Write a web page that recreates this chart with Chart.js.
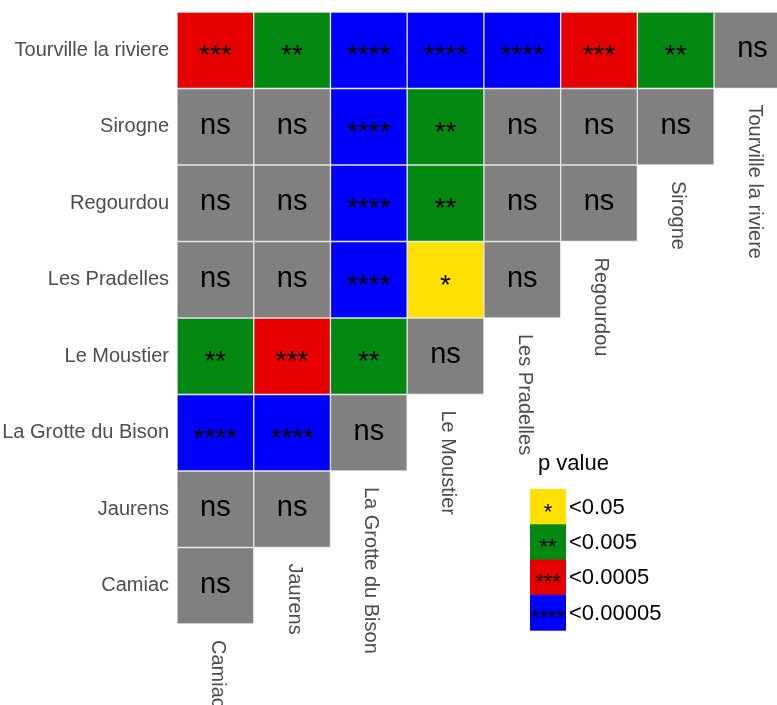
<!DOCTYPE html>
<html>
<head>
<meta charset="utf-8">
<script src="https://cdn.jsdelivr.net/npm/chart.js@4.4.1/dist/chart.umd.min.js"></script>
<style>
    html, body { margin: 0; padding: 0; background: #fff; }
</style>
</head>
<body>
<canvas id="heat" width="777" height="705"></canvas>
<script>
"use strict";

// Sites along the bottom, left to right. Rows run the other way (top to bottom).
var sites = ['Camiac', 'Jaurens', 'La Grotte du Bison', 'Le Moustier', 'Les Pradelles', 'Regourdou', 'Sirogne', 'Tourville la riviere'];
var rowSites = sites.slice().reverse();

// Significance for each row, one entry per column starting at Camiac:
var sigTourville = ['***', '**', '****', '****', '****', '***', '**', 'ns'];
var sigSirogne = ['ns', 'ns', '****', '**', 'ns', 'ns', 'ns'];
var sigRegourdou = ['ns', 'ns', '****', '**', 'ns', 'ns'];
var sigPradelles = ['ns', 'ns', '****', '*', 'ns'];
var sigMoustier = ['**', '***', '**', 'ns'];
var sigGrotte = ['****', '****', 'ns'];
var sigJaurens = ['ns', 'ns'];
var sigCamiac = ['ns'];
var sigRows = [sigTourville, sigSirogne, sigRegourdou, sigPradelles, sigMoustier, sigGrotte, sigJaurens, sigCamiac];

// Legend:
var legendSymbols = ['*', '**', '***', '****'];
var legendLabels = ['<0.05', '<0.005', '<0.0005', '<0.00005'];

var sigColors = { 'ns': '#808080', '*': '#FFE000', '**': '#038912', '***': '#E60000', '****': '#0000FF' };
var FONT = "'Liberation Sans', Arial, sans-serif";

// Helper: draw text with its ink centred on (cx, cy):
var drawCentered = function drawCentered(ctx, text, cx, cy, font) {
    ctx.font = font;
    ctx.textAlign = 'center';
    ctx.textBaseline = 'alphabetic';
    var m = ctx.measureText(text);
    ctx.fillText(text, cx, cy + (m.actualBoundingBoxAscent - m.actualBoundingBoxDescent) / 2);
};

// One floating-bar dataset per row; each bar is one cell.
var datasets = sigRows.map(function (row, r) {
    return {
        label: rowSites[r],
        data: row.map(function (s, c) {
            return { x: c, y: [r - 0.5, r + 0.5], sig: s };
        }),
        backgroundColor: row.map(function (s) { return sigColors[s]; }),
        borderColor: '#e4e4e4',
        borderWidth: 1,
        borderSkipped: false,
        grouped: false,
        barPercentage: 1,
        categoryPercentage: 1
    };
});

// Cell texts (stars / ns):
var cellText = {
    id: 'cellText',
    afterDatasetsDraw: function (chart) {
        var ctx = chart.ctx;
        ctx.save();
        ctx.fillStyle = '#000';
        chart.data.datasets.forEach(function (ds, r) {
            chart.getDatasetMeta(r).data.forEach(function (bar, c) {
                var p = bar.getProps(['x', 'y', 'base'], true);
                var sig = ds.data[c].sig;
                var font = sig === 'ns' ? '29px ' + FONT : '28px ' + FONT;
                drawCentered(ctx, sig, p.x, (p.y + p.base) / 2 - (sig === 'ns' ? 1 : 0), font);
            });
        });
        ctx.restore();
    }
};

// Column labels under the lowest cell of each column, and the p value legend:
var extras = {
    id: 'extras',
    afterDraw: function (chart) {
        var ctx = chart.ctx;
        var xs = chart.scales.x;
        var ys = chart.scales.y;
        ctx.save();

        ctx.fillStyle = '#4d4d4d';
        ctx.font = '20px ' + FONT;
        ctx.textAlign = 'left';
        ctx.textBaseline = 'middle';
        sites.forEach(function (name, c) {
            var bottom = ys.getPixelForValue(sigRows.length - 1 - c + 0.5);
            ctx.save();
            ctx.translate(xs.getPixelForValue(c) + 2, bottom + 16);
            ctx.rotate(Math.PI / 2);
            ctx.fillText(name, 0, 0);
            ctx.restore();
        });

        // Legend:
        var lx = 530, ly = 489, bw = 36, bh = 35.3;
        ctx.fillStyle = '#000';
        ctx.font = '22px ' + FONT;
        ctx.textAlign = 'left';
        ctx.textBaseline = 'alphabetic';
        ctx.fillText('p value', 538, 470);
        legendSymbols.forEach(function (s, i) {
            var top = ly + i * bh;
            ctx.fillStyle = sigColors[s];
            ctx.fillRect(lx, top, bw, bh + 0.5);
            ctx.fillStyle = '#000';
            drawCentered(ctx, s, lx + bw / 2, top + bh / 2 + 1, '22px ' + FONT);
            ctx.font = '22px ' + FONT;
            ctx.textAlign = 'left';
            ctx.textBaseline = 'middle';
            ctx.fillText(legendLabels[i], lx + bw + 3, top + bh / 2 + 1);
        });
        ctx.restore();
    }
};

var chart = new Chart(document.getElementById('heat').getContext('2d'), {
    type: 'bar',
    data: { datasets: datasets },
    plugins: [cellText, extras],
    options: {
        responsive: false,
        animation: false,
        layout: { padding: { top: 12, bottom: 81, left: 0, right: 0 } },
        plugins: {
            legend: { display: false },
            tooltip: { enabled: false }
        },
        scales: {
            x: {
                type: 'linear',
                offset: false,
                min: -0.5,
                max: 7.32,
                display: false,
                afterBuildTicks: function (scale) {
                    scale.ticks = sites.map(function (s, i) { return { value: i }; });
                }
            },
            y: {
                type: 'linear',
                reverse: true,
                min: -0.5,
                max: 7.5,
                grid: { display: false, drawTicks: false },
                border: { display: false },
                afterBuildTicks: function (scale) {
                    scale.ticks = rowSites.map(function (s, i) { return { value: i }; });
                },
                afterFit: function (scale) {
                    scale.width = 177;
                    scale.paddingTop = 0;
                    scale.paddingBottom = 0;
                },
                ticks: {
                    padding: 8,
                    color: '#4d4d4d',
                    font: { family: FONT, size: 20 },
                    callback: function (value) {
                        return rowSites[value];
                    }
                }
            }
        }
    }
});
</script>
</body>
</html>
